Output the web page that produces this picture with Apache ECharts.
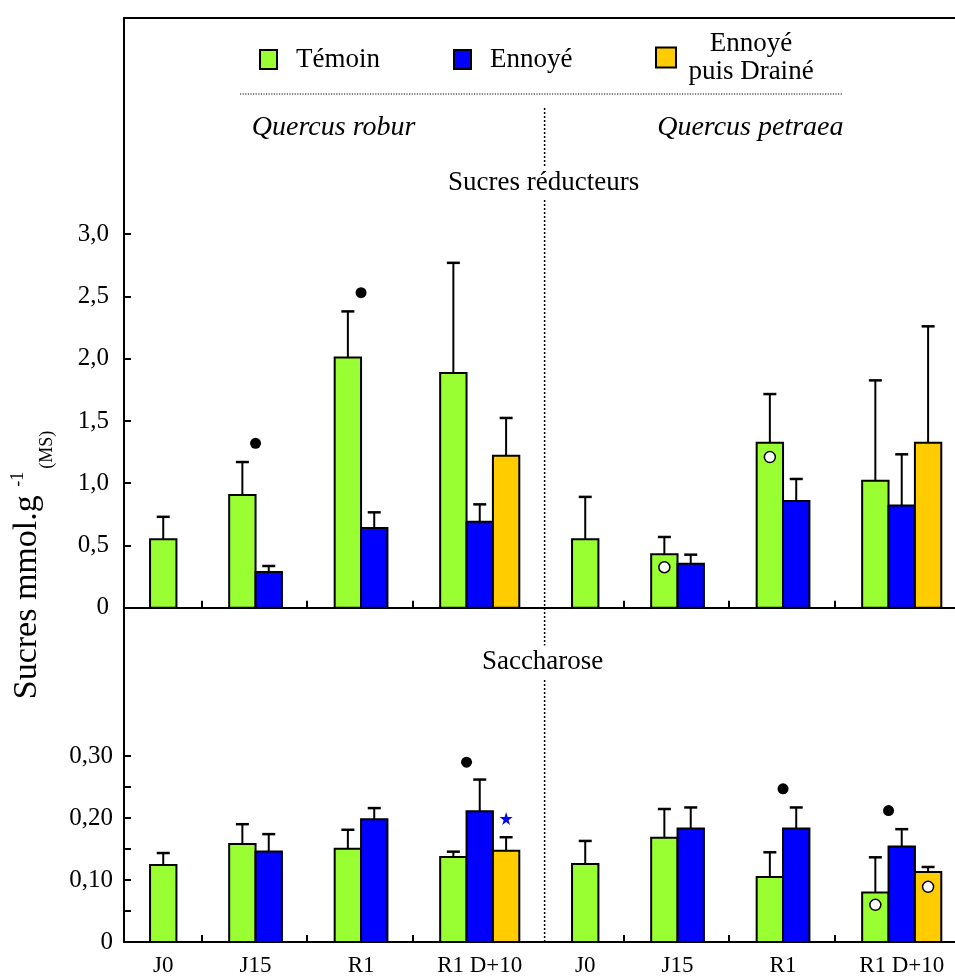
<!DOCTYPE html>
<html><head><meta charset="utf-8">
<script src="https://cdn.jsdelivr.net/npm/echarts@6.0.0/dist/echarts.min.js"></script>
<style>html,body{margin:0;padding:0;background:#fff}#c{width:955px;height:977px}</style>
</head><body><div id="c"></div>
<script>
// ---------- DATA ----------
const categories = ['J0', 'J15', 'R1', 'R1 D+10', 'J0', 'J15', 'R1', 'R1 D+10'];
const speciesNames = ['Quercus robur', 'Quercus petraea'];
const treatmentNames = ['Témoin', 'Ennoyé', 'Ennoyé puis Drainé'];
const panelTitles = ['Sucres réducteurs', 'Saccharose'];
const yTitle = ['Sucres mmol.g ', '-1', '(MS)'];

// Sucres réducteurs : means and standard errors
const reducTemoin    = [0.55, 0.905, 2.01, 1.885, 0.55, 0.43, 1.325, 1.02];
const reducTemoinSE  = [0.18, 0.265, 0.37, 0.885, 0.34, 0.138, 0.391, 0.806];
const reducEnnoye    = [null, 0.287, 0.64, 0.69, null, 0.353, 0.857, 0.82];
const reducEnnoyeSE  = [null, 0.048, 0.126, 0.14, null, 0.073, 0.177, 0.412];
const reducDraine    = [null, null, null, 1.22, null, null, null, 1.325];
const reducDraineSE  = [null, null, null, 0.304, null, null, null, 0.935];

// Saccharose : means and standard errors
const saccTemoin     = [0.124, 0.158, 0.1505, 0.137, 0.126, 0.168, 0.105, 0.080];
const saccTemoinSE   = [0.0195, 0.032, 0.0305, 0.0087, 0.037, 0.0465, 0.0397, 0.0566];
const saccEnnoye     = [null, 0.146, 0.198, 0.211, null, 0.183, 0.183, 0.154];
const saccEnnoyeSE   = [null, 0.028, 0.018, 0.051, null, 0.034, 0.034, 0.028];
const saccDraine     = [null, null, null, 0.147, null, null, null, 0.113];
const saccDraineSE   = [null, null, null, 0.022, null, null, null, 0.008];

// significance marks: [category index, y]  (black dots: Témoin vs Ennoyé)
const reducDots = [[1, 1.32], [2, 2.53]];
const saccDots = [[3, 0.29], [6, 0.247], [7, 0.212]];
// [category index, treatment index, y]
const reducCircles = [[5, 0, 0.325], [6, 0, 1.21]];
const saccCircles = [[7, 0, 0.06], [7, 2, 0.089]];
const saccStars = [[3, 2, 0.199]];

// axis ticks
const reducTicks = [0, 0.5, 1.0, 1.5, 2.0, 2.5, 3.0];
const saccTicks = [0, 0.05, 0.10, 0.15, 0.20, 0.25, 0.30];
const saccLabels = [0, 0.10, 0.20, 0.30];
const catTicks = [1, 2, 3, 5, 6, 7];

// ---------- LAYOUT ----------
const FONT = "'Liberation Serif','Times New Roman',serif";
const COLORS = ['#99ff33', '#0000ff', '#ffcc00'];
const SLOT_START = 0.26, SLOT_W = 0.25, SPLIT = 4.25;
const SPECIES_X = [2.25, 6.2];
const X_MIN = 0.263, X_MAX = 8.14;
const GRID_LEFT = 124, FRAME_TOP = 18, MID_Y = 607.7, BOTTOM_Y = 942, H = 977;

const presence = categories.map((_, i) => [reducTemoin, reducEnnoye, reducDraine].map(a => a[i] != null));
function slotOf(cat, s) { return presence[cat].filter(Boolean).length === 1 ? 1 : s; }
function barLeft(cat, s) { return cat + SLOT_START + slotOf(cat, s) * SLOT_W; }
function barCenter(cat, s) { return barLeft(cat, s) + SLOT_W / 2; }
const labelPos = categories.map((_, i) => {
  const c = presence[i].map((p, s) => p ? barCenter(i, s) : null).filter(v => v != null);
  return c.reduce((a, b) => a + b, 0) / c.length;
});

function barSeries(s, means, ses, g) {
  return {
    type: 'custom', name: treatmentNames[s], xAxisIndex: g, yAxisIndex: g, z: 3,
    itemStyle: { color: COLORS[s], borderColor: '#000', borderWidth: 2 },
    encode: { x: 0, y: 1 },
    data: means.map((m, i) => m == null ? null : [i, m, ses[i]]).filter(Boolean),
    renderItem: function (params, api) {
      const cat = api.value(0), v = api.value(1), se = api.value(2);
      const x0 = barLeft(cat, s);
      const p0 = api.coord([x0, 0]);
      const p1 = api.coord([x0 + SLOT_W, v]);
      const pe = api.coord([x0 + SLOT_W / 2, v + se]);
      return {
        type: 'group', children: [
          { type: 'line', shape: { x1: pe[0], y1: p1[1], x2: pe[0], y2: pe[1] }, style: { stroke: '#000', lineWidth: 2 } },
          { type: 'line', shape: { x1: pe[0] - 6.5, y1: pe[1], x2: pe[0] + 6.5, y2: pe[1] }, style: { stroke: '#000', lineWidth: 2.5 } },
          { type: 'rect', shape: { x: p0[0], y: p1[1], width: p1[0] - p0[0], height: p0[1] - p1[1] },
            style: { fill: COLORS[s], stroke: '#000', lineWidth: 2 } }
        ]
      };
    }
  };
}
const STAR = 'path://M50,0 L61,35 L98,35 L68,57 L79,91 L50,70 L21,91 L32,57 L2,35 L39,35 Z';
function dotSeries(g, data) {
  return { type: 'scatter', xAxisIndex: g, yAxisIndex: g, z: 6, silent: true, symbol: 'circle', symbolSize: 11,
    itemStyle: { color: '#000', opacity: 1 }, data: data.map(d => [barLeft(d[0], 1), d[1]]) };
}
function circleSeries(g, data) {
  return { type: 'scatter', xAxisIndex: g, yAxisIndex: g, z: 6, silent: true, symbol: 'circle', symbolSize: 11,
    itemStyle: { color: '#fff', borderColor: '#000', borderWidth: 1.5, opacity: 1 }, data: data.map(d => [barCenter(d[0], d[1]), d[2]]) };
}
function starSeries(g, data) {
  return { type: 'scatter', xAxisIndex: g, yAxisIndex: g, z: 6, silent: true, symbol: STAR, symbolSize: 13,
    itemStyle: { color: '#0000ff', opacity: 1 }, data: data.map(d => [barCenter(d[0], d[1]), d[2]]) };
}

const axisLine = { show: true, onZero: false, lineStyle: { color: '#000', width: 2 } };
const tickStyle = { lineStyle: { color: '#000', width: 2 } };
function xAxis(g, withLabels) {
  return {
    type: 'value', gridIndex: g, min: X_MIN, max: X_MAX, position: 'bottom',
    axisLine: axisLine, splitLine: { show: false },
    axisTick: Object.assign({ show: true, inside: true, length: 7, customValues: catTicks }, tickStyle),
    axisLabel: withLabels ? {
      show: true, customValues: labelPos, margin: 12, color: '#000', fontFamily: FONT, fontSize: 23,
      formatter: v => { const i = labelPos.findIndex(p => Math.abs(p - v) < 1e-6); return i >= 0 ? categories[i] : ''; }
    } : { show: false }
  };
}
const fmt = (v, d) => v === 0 ? '0' : v.toFixed(d).replace('.', ',');
const legendBase = { padding: 0, icon: 'rect', itemWidth: 17, itemHeight: 19,
  itemStyle: { borderColor: '#000', borderWidth: 2 } };

const option = {
  animation: false,
  backgroundColor: '#fff',
  grid: [
    { left: GRID_LEFT, right: 0, top: FRAME_TOP, bottom: H - MID_Y },
    { left: GRID_LEFT, right: 0, top: MID_Y, bottom: H - BOTTOM_Y }
  ],
  xAxis: [
    xAxis(0, false),
    xAxis(1, true),
    { type: 'value', gridIndex: 0, min: X_MIN, max: X_MAX, position: 'top', axisLine: axisLine,
      axisTick: { show: false }, axisLabel: { show: false }, splitLine: { show: false } }
  ],
  yAxis: [
    { type: 'value', gridIndex: 0, min: 0, max: (MID_Y - FRAME_TOP) / 124.5,
      axisLine: axisLine, splitLine: { show: false },
      axisTick: Object.assign({ show: true, inside: true, length: 7, customValues: reducTicks }, tickStyle),
      axisLabel: { show: true, customValues: reducTicks, margin: 15, color: '#000', fontFamily: FONT, fontSize: 25,
        formatter: v => fmt(v, 1) } },
    { type: 'value', gridIndex: 1, min: 0, max: (BOTTOM_Y - MID_Y) / 620,
      axisLine: axisLine, splitLine: { show: false },
      axisTick: Object.assign({ show: true, inside: true, length: 7, customValues: saccTicks }, tickStyle),
      axisLabel: { show: true, customValues: saccLabels, margin: 11, color: '#000', fontFamily: FONT, fontSize: 25,
        formatter: v => fmt(v, 2) } }
  ],
  legend: [
    Object.assign({ data: [treatmentNames[0]], left: 259, top: 46,
      textStyle: { fontFamily: FONT, fontSize: 27, color: '#000', padding: [0, 0, 0, 14] } }, legendBase),
    Object.assign({ data: [treatmentNames[1]], left: 453, top: 46,
      textStyle: { fontFamily: FONT, fontSize: 27, color: '#000', padding: [0, 0, 0, 14] } }, legendBase),
    Object.assign({ data: [treatmentNames[2]], left: 655, top: 30, itemWidth: 20, itemHeight: 20,
      formatter: () => '{a|Ennoyé}\n{a|puis Drainé}',
      textStyle: { fontFamily: FONT, fontSize: 27, color: '#000', padding: [0, 0, 0, 5],
        rich: { a: { width: 130, align: 'center', fontFamily: FONT, fontSize: 27, lineHeight: 28, color: '#000' } } } },
      legendBase, { itemWidth: 20, itemHeight: 20 })
  ],
  series: [
    barSeries(0, reducTemoin, reducTemoinSE, 0),
    barSeries(1, reducEnnoye, reducEnnoyeSE, 0),
    barSeries(2, reducDraine, reducDraineSE, 0),
    barSeries(0, saccTemoin, saccTemoinSE, 1),
    barSeries(1, saccEnnoye, saccEnnoyeSE, 1),
    barSeries(2, saccDraine, saccDraineSE, 1),
    dotSeries(0, reducDots), dotSeries(1, saccDots),
    circleSeries(0, reducCircles), circleSeries(1, saccCircles),
    starSeries(1, saccStars)
  ]
};
const chart = echarts.init(document.getElementById('c'));
chart.setOption(option);

const px = v => chart.convertToPixel({ xAxisIndex: 0 }, v);
const vx = px(SPLIT);
chart.setOption({
  graphic: [
    { type: 'line', z: 1, shape: { x1: 240, y1: 94, x2: 842, y2: 94 }, style: { stroke: '#000', lineWidth: 1.2, lineDash: [1.2, 1.4] } },
    { type: 'line', z: 1, shape: { x1: vx, y1: 108, x2: vx, y2: BOTTOM_Y }, style: { stroke: '#000', lineWidth: 1.5, lineDash: [2, 2] } },
    { type: 'text', z: 10, x: vx - 1, y: 183, style: { text: panelTitles[0], font: '27px ' + FONT, fill: '#000',
      align: 'center', verticalAlign: 'middle', backgroundColor: '#fff', padding: [3, 4] } },
    { type: 'text', z: 10, x: vx - 2, y: 662, style: { text: panelTitles[1], font: '27px ' + FONT, fill: '#000',
      align: 'center', verticalAlign: 'middle', backgroundColor: '#fff', padding: [3, 4] } },
    { type: 'text', z: 10, x: px(SPECIES_X[0]), y: 128, style: { text: speciesNames[0], font: 'italic 28px ' + FONT, fill: '#000',
      align: 'center', verticalAlign: 'middle' } },
    { type: 'text', z: 10, x: px(SPECIES_X[1]), y: 128, style: { text: speciesNames[1], font: 'italic 28px ' + FONT, fill: '#000',
      align: 'center', verticalAlign: 'middle' } },
    { type: 'text', z: 10, x: 27, y: 565, rotation: Math.PI / 2,
      style: { text: '{m|' + yTitle[0] + '}{sup|' + yTitle[1] + '}{sub|' + yTitle[2] + '}', fill: '#000',
        align: 'center', verticalAlign: 'middle',
        rich: {
          m: { font: '34px ' + FONT, fill: '#000', lineHeight: 36 },
          sup: { font: '18px ' + FONT, fill: '#000', lineHeight: 18, padding: [0, 3, 18, 0] },
          sub: { font: '18px ' + FONT, fill: '#000', lineHeight: 18, padding: [40, 0, 0, 0] }
        } } }
  ]
});
</script>
</body></html>
